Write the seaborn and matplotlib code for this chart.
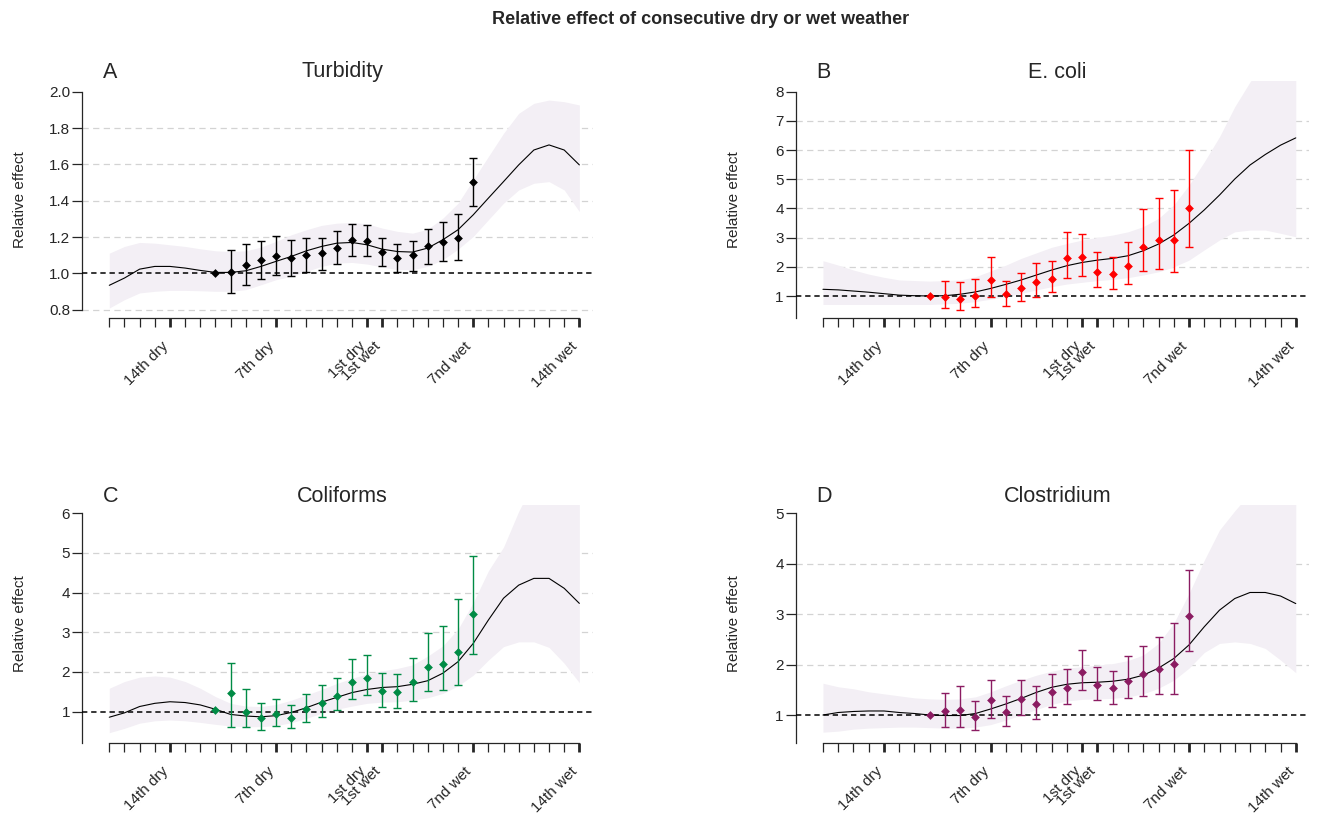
import matplotlib
matplotlib.use("Agg")
import matplotlib.pyplot as plt
import numpy as np
import pandas as pd
import seaborn as sns

sns.set_style("white")
plt.rcParams['font.family'] = ['Liberation Sans', 'DejaVu Sans']

# lag positions: 18 dry days ... 1 dry day, then 1 wet day ... 14 wet days
lag_index = list(range(32))
point_index = list(range(7, 25))
tick_labels = {4: "14th dry", 11: "7th dry", 17: "1st dry", 18: "1st wet",
               24: "7nd wet", 31: "14th wet"}

# Turbidity
turb_fit = [0.934, 0.974, 1.023, 1.038, 1.038, 1.029, 1.016, 1.005, 1.005, 1.014,
            1.038, 1.066, 1.093, 1.124, 1.148, 1.166, 1.17, 1.157, 1.133, 1.12,
            1.117, 1.139, 1.185, 1.24, 1.322, 1.414, 1.505, 1.597, 1.679, 1.707,
            1.679, 1.597]
turb_lo = [0.809, 0.855, 0.892, 0.901, 0.906, 0.906, 0.904, 0.901, 0.901, 0.91,
           0.937, 0.965, 0.983, 1.011, 1.038, 1.056, 1.06, 1.051, 1.035, 1.02,
           1.02, 1.038, 1.075, 1.133, 1.203, 1.295, 1.386, 1.459, 1.496, 1.505,
           1.459, 1.34]
turb_hi = [1.111, 1.148, 1.17, 1.166, 1.157, 1.148, 1.135, 1.124, 1.12, 1.124,
           1.144, 1.176, 1.212, 1.24, 1.264, 1.276, 1.28, 1.273, 1.249, 1.231,
           1.221, 1.243, 1.304, 1.386, 1.515, 1.643, 1.771, 1.881, 1.936, 1.954,
           1.945, 1.927]
turb_est = [1.0, 1.01, 1.047, 1.071, 1.097, 1.084, 1.099, 1.111, 1.139, 1.181,
            1.177, 1.12, 1.084, 1.099, 1.148, 1.17, 1.194, 1.505]
turb_est_lo = [1.0, 0.892, 0.937, 0.969, 0.992, 0.983, 1.005, 1.02, 1.051, 1.093,
               1.093, 1.038, 1.005, 1.014, 1.051, 1.066, 1.071, 1.373]
turb_est_hi = [1.0, 1.13, 1.161, 1.179, 1.207, 1.185, 1.192, 1.197, 1.231, 1.271,
               1.264, 1.197, 1.161, 1.179, 1.243, 1.282, 1.326, 1.637]

# E. coli
ecoli_fit = [1.23, 1.21, 1.17, 1.13, 1.08, 1.03, 1.01, 1.0, 1.01, 1.06,
             1.14, 1.26, 1.40, 1.55, 1.72, 1.89, 2.04, 2.15, 2.23, 2.29,
             2.38, 2.55, 2.78, 3.09, 3.49, 3.95, 4.46, 5.01, 5.49, 5.85,
             6.17, 6.42]
ecoli_lo = [0.71, 0.71, 0.71, 0.71, 0.71, 0.71, 0.71, 0.71, 0.73, 0.75,
            0.81, 0.89, 0.98, 1.09, 1.21, 1.32, 1.41, 1.47, 1.53, 1.57,
            1.63, 1.72, 1.83, 2.0, 2.23, 2.58, 2.92, 3.20, 3.26, 3.26,
            3.15, 3.03]
ecoli_hi = [2.21, 2.06, 1.89, 1.75, 1.64, 1.55, 1.53, 1.51, 1.53, 1.55,
            1.66, 1.86, 2.06, 2.29, 2.48, 2.67, 2.80, 2.92, 3.01, 3.09,
            3.20, 3.38, 3.66, 4.12, 4.80, 5.60, 6.46, 7.49, 8.34, 9.0,
            9.5, 9.8]
ecoli_est = [1.01, 0.98, 0.90, 1.01, 1.55, 1.06, 1.26, 1.47, 1.57, 2.31,
             2.35, 1.83, 1.75, 2.03, 2.69, 2.92, 2.92, 4.03]
ecoli_est_lo = [1.01, 0.60, 0.52, 0.63, 0.98, 0.67, 0.84, 0.95, 1.13, 1.63,
                1.69, 1.32, 1.24, 1.40, 1.86, 1.92, 1.81, 2.69]
ecoli_est_hi = [1.01, 1.53, 1.47, 1.59, 2.32, 1.53, 1.80, 2.12, 2.20, 3.20,
                3.12, 2.50, 2.35, 2.84, 3.97, 4.35, 4.65, 6.0]

# Coliforms
coli_fit = [0.86, 0.97, 1.13, 1.21, 1.25, 1.23, 1.17, 1.06, 0.93, 0.89,
            0.87, 0.90, 0.98, 1.10, 1.24, 1.36, 1.48, 1.56, 1.61, 1.63,
            1.69, 1.78, 1.97, 2.26, 2.72, 3.31, 3.86, 4.19, 4.36, 4.36,
            4.11, 3.73]
coli_lo = [0.47, 0.58, 0.71, 0.77, 0.79, 0.77, 0.73, 0.68, 0.64, 0.62,
           0.62, 0.65, 0.72, 0.83, 0.96, 1.06, 1.14, 1.21, 1.24, 1.25,
           1.29, 1.35, 1.46, 1.65, 1.92, 2.30, 2.64, 2.76, 2.76, 2.62,
           2.22, 1.73]
coli_hi = [1.59, 1.76, 1.87, 1.90, 1.87, 1.76, 1.59, 1.38, 1.21, 1.14,
           1.13, 1.18, 1.29, 1.42, 1.56, 1.71, 1.84, 1.95, 2.03, 2.09,
           2.18, 2.40, 2.66, 3.08, 3.75, 4.55, 5.15, 6.05, 6.8, 7.2,
           7.3, 7.3]
coli_est = [1.03, 1.46, 1.0, 0.83, 0.93, 0.83, 1.06, 1.23, 1.39, 1.76,
            1.84, 1.53, 1.49, 1.76, 2.13, 2.20, 2.51, 3.46]
coli_est_lo = [1.03, 0.62, 0.62, 0.54, 0.64, 0.60, 0.75, 0.86, 1.03, 1.31,
               1.42, 1.13, 1.10, 1.28, 1.52, 1.55, 1.66, 2.45]
coli_est_hi = [1.03, 2.22, 1.56, 1.21, 1.33, 1.18, 1.45, 1.67, 1.86, 2.33,
               2.43, 1.98, 1.95, 2.36, 2.99, 3.17, 3.84, 4.93]

# Clostridium
clos_fit = [1.0, 1.05, 1.07, 1.08, 1.08, 1.05, 1.03, 1.0, 0.99, 0.99,
            1.03, 1.12, 1.22, 1.33, 1.45, 1.55, 1.61, 1.64, 1.65, 1.67,
            1.71, 1.79, 1.93, 2.12, 2.39, 2.75, 3.08, 3.31, 3.43, 3.43,
            3.36, 3.21]
clos_lo = [0.66, 0.68, 0.72, 0.74, 0.75, 0.76, 0.76, 0.75, 0.74, 0.74,
           0.76, 0.81, 0.90, 1.0, 1.11, 1.21, 1.28, 1.31, 1.32, 1.33,
           1.36, 1.42, 1.53, 1.69, 1.93, 2.24, 2.42, 2.45, 2.42, 2.32,
           2.09, 1.84]
clos_hi = [1.63, 1.56, 1.52, 1.46, 1.42, 1.38, 1.34, 1.32, 1.31, 1.32,
           1.36, 1.46, 1.58, 1.69, 1.79, 1.87, 1.93, 1.96, 1.99, 2.02,
           2.08, 2.19, 2.42, 2.82, 3.41, 4.07, 4.67, 5.05, 5.4, 5.7,
           5.8, 5.8]
clos_est = [1.01, 1.07, 1.10, 0.97, 1.30, 1.05, 1.31, 1.22, 1.46, 1.53,
            1.85, 1.60, 1.53, 1.68, 1.81, 1.91, 2.01, 2.96]
clos_est_lo = [1.01, 0.77, 0.77, 0.70, 0.95, 0.79, 1.0, 0.93, 1.15, 1.21,
               1.50, 1.30, 1.21, 1.33, 1.38, 1.42, 1.42, 2.26]
clos_est_hi = [1.01, 1.44, 1.58, 1.28, 1.69, 1.38, 1.69, 1.58, 1.81, 1.91,
               2.28, 1.95, 1.88, 2.17, 2.37, 2.55, 2.83, 3.88]

panels = [
    dict(letter="A", title="Turbidity", color="black",
         fit=turb_fit, lo=turb_lo, hi=turb_hi,
         est=turb_est, est_lo=turb_est_lo, est_hi=turb_est_hi,
         yticks=[0.8, 1.0, 1.2, 1.4, 1.6, 1.8, 2.0], fmt="{:.1f}",
         grid=[0.8, 1.2, 1.4, 1.6, 1.8], ylim=(0.754, 2.059), axis_lo=0.8),
    dict(letter="B", title="E. coli", color="#FF0000",
         fit=ecoli_fit, lo=ecoli_lo, hi=ecoli_hi,
         est=ecoli_est, est_lo=ecoli_est_lo, est_hi=ecoli_est_hi,
         yticks=[1, 2, 3, 4, 5, 6, 7, 8], fmt="{:.0f}",
         grid=[2, 3, 4, 5, 6, 7], ylim=(0.246, 8.37), axis_lo=0),
    dict(letter="C", title="Coliforms", color="#008B45",
         fit=coli_fit, lo=coli_lo, hi=coli_hi,
         est=coli_est, est_lo=coli_est_lo, est_hi=coli_est_hi,
         yticks=[1, 2, 3, 4, 5, 6], fmt="{:.0f}",
         grid=[2, 3, 4, 5], ylim=(0.21, 6.21), axis_lo=0),
    dict(letter="D", title="Clostridium", color="#8B1C62",
         fit=clos_fit, lo=clos_lo, hi=clos_hi,
         est=clos_est, est_lo=clos_est_lo, est_hi=clos_est_hi,
         yticks=[1, 2, 3, 4, 5], fmt="{:.0f}",
         grid=[2, 3, 4], ylim=(0.445, 5.165), axis_lo=0),
]

W, H = 1324, 813
fig = plt.figure(figsize=(W / 100, H / 100), dpi=100)
# axes boxes in pixels: left, top, width, height
boxes = [(82, 81, 511, 237), (795.5, 81, 514, 237),
         (82, 505, 511, 238), (795.5, 505, 514, 238)]

band_color = "#F3EFF5"
small = 11

for p, (bl, bt, bw, bh) in zip(panels, boxes):
    ax = fig.add_axes([bl / W, 1 - (bt + bh) / H, bw / W, bh / H])
    ax.set_xlim(-1.8, 31.9)
    ax.set_ylim(*p["ylim"])

    for g in p["grid"]:
        ax.axhline(g, color="#D3D3D3", lw=0.9, ls=(0, (5, 3.5)), zorder=1)

    ax.fill_between(lag_index, p["lo"], p["hi"], color=band_color, lw=0, zorder=2)
    sns.lineplot(x=lag_index, y=p["fit"], ax=ax, color="black", lw=0.8, zorder=3)
    ax.axhline(1, color="black", lw=1.1, ls=(0, (3.5, 2.5)), zorder=4)

    est = np.array(p["est"])
    elo = np.array(p["est_lo"])
    ehi = np.array(p["est_hi"])
    ax.errorbar(point_index[1:], est[1:], yerr=[est[1:] - elo[1:], ehi[1:] - est[1:]],
                fmt="none", ecolor=p["color"], elinewidth=1.0, capsize=3.2,
                capthick=1.0, zorder=5)
    sns.scatterplot(x=point_index, y=est, ax=ax, marker="D", s=20,
                    color=p["color"], edgecolor=p["color"], linewidth=0, zorder=6)

    # axes styling
    for side in ["top", "right"]:
        ax.spines[side].set_visible(False)
    ax.spines["left"].set_linewidth(0.9)
    ax.spines["bottom"].set_linewidth(0.9)
    ax.spines["left"].set_bounds(max(p["ylim"][0], p["axis_lo"]), p["yticks"][-1])
    ax.spines["bottom"].set_bounds(0, 31)

    ax.set_yticks(p["yticks"])
    ax.set_yticklabels([p["fmt"].format(v) for v in p["yticks"]])
    ax.tick_params(axis="y", length=7, width=0.9, pad=1.5, labelsize=small,
                   left=True, direction="out")
    ax.set_xticks(lag_index)
    ax.set_xticklabels([])
    ax.tick_params(axis="x", length=6.5, width=0.9, bottom=True, direction="out")
    for t, tick in zip(lag_index, ax.xaxis.get_major_ticks()):
        if t in tick_labels:
            tick.tick1line.set_markeredgewidth(2.0)

    for t, lab in tick_labels.items():
        ax.annotate(lab, xy=(t, 0), xycoords=("data", "axes fraction"),
                    xytext=(-4, -26), textcoords="offset pixels",
                    rotation=45, rotation_mode="anchor", ha="right", va="center",
                    fontsize=small, annotation_clip=False)

    ax.set_ylabel("Relative effect", fontsize=small)
    ax.yaxis.set_label_coords(-55 / bw, 0.5)
    ax.set_xlabel("")

    ax.text(21 / bw, 1 + 9 / bh, p["letter"], transform=ax.transAxes,
            fontsize=15.5, ha="left", va="center")
    ax.text(0.51, 1 + 9 / bh, p["title"], transform=ax.transAxes,
            fontsize=15.5, ha="center", va="center")

fig.text(701 / W, 1 - 19 / H, "Relative effect of consecutive dry or wet weather",
         fontsize=13, fontweight="bold", ha="center", va="center")

fig.savefig("out.png", dpi=100)
